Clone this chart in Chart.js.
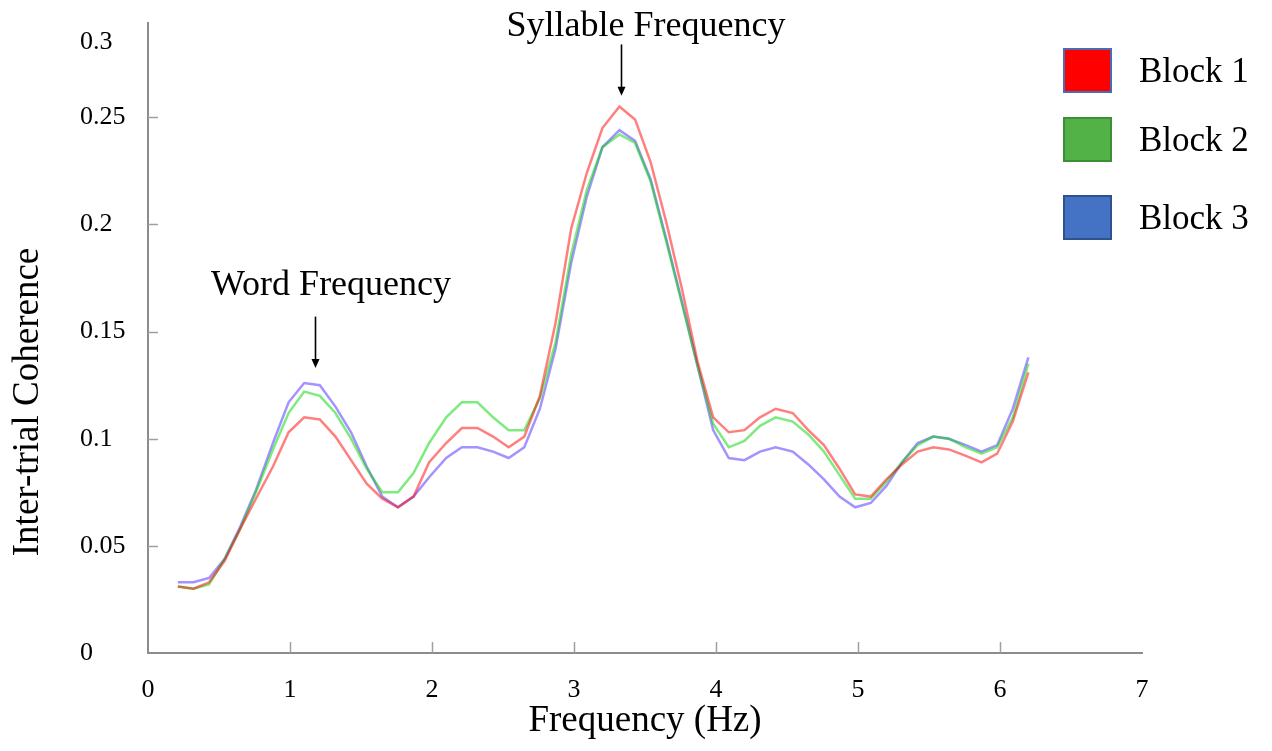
<!DOCTYPE html>
<html>
<head>
<meta charset="utf-8">
<title>Inter-trial Coherence by Block</title>
<script src="https://cdn.jsdelivr.net/npm/chart.js@4.4.1/dist/chart.umd.min.js"></script>
<style>
  html, body { margin: 0; padding: 0; background: #fff; }
  #wrap { width: 1272px; height: 751px; }
</style>
</head>
<body>
<div id="wrap"><canvas id="itc" width="1272" height="751"></canvas></div>
<script>
// ───── Data ───────────────────────────────────────────────────────────────
const frequencies = [
  0.21, 0.32, 0.43, 0.54, 0.65, 0.76, 0.88, 0.99, 1.10, 1.21,
  1.32, 1.43, 1.54, 1.65, 1.76, 1.87, 1.98, 2.10, 2.21, 2.32,
  2.43, 2.54, 2.65, 2.76, 2.87, 2.98, 3.09, 3.20, 3.32, 3.43,
  3.54, 3.65, 3.76, 3.87, 3.98, 4.09, 4.20, 4.31, 4.42, 4.54,
  4.65, 4.76, 4.87, 4.98, 5.09, 5.20, 5.31, 5.42, 5.53, 5.64,
  5.76, 5.87, 5.98, 6.09, 6.20,
];

const block1 = [
  0.031, 0.030, 0.033, 0.043, 0.058, 0.072, 0.087, 0.103, 0.110, 0.109,
  0.101, 0.090, 0.079, 0.072, 0.068, 0.073, 0.089, 0.098, 0.105, 0.105,
  0.101, 0.096, 0.101, 0.120, 0.154, 0.198, 0.224, 0.245, 0.255, 0.249,
  0.229, 0.201, 0.170, 0.136, 0.110, 0.103, 0.104, 0.110, 0.114, 0.112,
  0.104, 0.097, 0.086, 0.074, 0.073, 0.081, 0.088, 0.094, 0.096, 0.095,
  0.092, 0.089, 0.093, 0.108, 0.131,
];

const block2 = [
  0.031, 0.030, 0.032, 0.044, 0.058, 0.075, 0.095, 0.112, 0.122, 0.120,
  0.112, 0.100, 0.086, 0.075, 0.075, 0.084, 0.098, 0.110, 0.117, 0.117,
  0.110, 0.104, 0.104, 0.119, 0.145, 0.186, 0.216, 0.236, 0.242, 0.238,
  0.220, 0.192, 0.163, 0.134, 0.107, 0.096, 0.099, 0.106, 0.110, 0.108,
  0.102, 0.094, 0.083, 0.072, 0.072, 0.080, 0.089, 0.097, 0.101, 0.100,
  0.096, 0.093, 0.096, 0.110, 0.135,
];

const block3 = [
  0.033, 0.033, 0.035, 0.044, 0.059, 0.076, 0.098, 0.117, 0.126, 0.125,
  0.115, 0.103, 0.087, 0.073, 0.068, 0.073, 0.082, 0.091, 0.096, 0.096,
  0.094, 0.091, 0.096, 0.114, 0.142, 0.182, 0.213, 0.236, 0.244, 0.239,
  0.221, 0.193, 0.164, 0.134, 0.104, 0.091, 0.090, 0.094, 0.096, 0.094,
  0.088, 0.081, 0.073, 0.068, 0.070, 0.078, 0.089, 0.098, 0.101, 0.100,
  0.097, 0.094, 0.097, 0.114, 0.138,
];

const seriesNames = ['Block 1', 'Block 2', 'Block 3'];
const xTickValues = [0, 1, 2, 3, 4, 5, 6, 7];
const yTickValues = [0, 0.05, 0.1, 0.15, 0.2, 0.25, 0.285];
const yTickLabels = ['0', '0.05', '0.1', '0.15', '0.2', '0.25', '0.3'];

// Arrow call-outs (in data units).
const callouts = [
  { text: 'Word Frequency', x: 1.176, tip: 0.133, tail: 0.157, textX: 1.289, textY: 0.1715 },
  { text: 'Syllable Frequency', x: 3.33, tip: 0.260, tail: 0.284, textX: 3.507, textY: 0.2925 },
];

// ───── Styling ─────────────────────────────────────────────────────────────
const SERIF = '"Liberation Serif", "Times New Roman", "DejaVu Serif", serif';
const lineColors = ['rgba(255, 0, 0, 0.5)', 'rgba(0, 215, 0, 0.5)', 'rgba(70, 40, 255, 0.5)'];
const swatchFill = ['#ff0000', '#52b147', '#4472c4'];
const swatchEdge = ['#4a6bb5', '#3d8f36', '#2f528f'];

const allSeries = [block1, block2, block3];

const datasets = allSeries.map((values, i) => ({
  label: seriesNames[i],
  data: frequencies.map((f, k) => ({ x: f, y: values[k] })),
  borderColor: lineColors[i],
  backgroundColor: lineColors[i],
  borderWidth: 2.5,
  pointRadius: 0,
  tension: 0,
  fill: false,
}));

// Small tick marks that point into the plot, like the original.
const innerTicks = {
  id: 'innerTicks',
  afterDatasetsDraw(chart) {
    const { ctx, chartArea, scales: { x, y } } = chart;
    ctx.save();
    ctx.strokeStyle = '#a0a0a0';
    ctx.lineWidth = 1.5;
    ctx.beginPath();
    yTickValues.slice(1, 6).forEach((v) => {
      const py = Math.round(y.getPixelForValue(v)) + 0.5;
      ctx.moveTo(chartArea.left, py);
      ctx.lineTo(chartArea.left + 10, py);
    });
    xTickValues.slice(1, 7).forEach((v) => {
      const px = Math.round(x.getPixelForValue(v)) + 0.5;
      ctx.moveTo(px, chartArea.bottom);
      ctx.lineTo(px, chartArea.bottom - 11);
    });
    ctx.stroke();
    ctx.restore();
  },
};

// Rotated y title, arrows with labels, and the square-swatch legend.
const decorations = {
  id: 'decorations',
  afterDraw(chart) {
    const { ctx, scales: { x, y } } = chart;
    ctx.save();
    ctx.fillStyle = '#000';
    ctx.strokeStyle = '#000';

    // y-axis title
    ctx.save();
    ctx.translate(28, 402);
    ctx.rotate(-Math.PI / 2);
    ctx.font = `37px ${SERIF}`;
    ctx.textAlign = 'center';
    ctx.textBaseline = 'middle';
    ctx.fillText('Inter-trial Coherence', 0, 0);
    ctx.restore();

    // call-outs
    callouts.forEach((c) => {
      const ax = Math.round(x.getPixelForValue(c.x)) + 0.5;
      const tipY = y.getPixelForValue(c.tip);
      const tailY = y.getPixelForValue(c.tail);
      ctx.lineWidth = 1.6;
      ctx.beginPath();
      ctx.moveTo(ax, tailY);
      ctx.lineTo(ax, tipY - 6);
      ctx.stroke();
      ctx.beginPath();
      ctx.moveTo(ax - 4, tipY - 9);
      ctx.lineTo(ax + 4, tipY - 9);
      ctx.lineTo(ax, tipY);
      ctx.closePath();
      ctx.fill();

      ctx.font = `36px ${SERIF}`;
      ctx.textAlign = 'center';
      ctx.textBaseline = 'middle';
      ctx.fillText(c.text, x.getPixelForValue(c.textX), y.getPixelForValue(c.textY));
    });

    // legend
    const rowTops = [48, 117, 195];
    chart.data.datasets.forEach((ds, i) => {
      const top = rowTops[i];
      ctx.fillStyle = swatchFill[i];
      ctx.fillRect(1063, top, 49, 45);
      ctx.lineWidth = 2;
      ctx.strokeStyle = swatchEdge[i];
      ctx.strokeRect(1064, top + 1, 47, 43);
      ctx.fillStyle = '#000';
      ctx.font = `35px ${SERIF}`;
      ctx.textAlign = 'left';
      ctx.textBaseline = 'middle';
      ctx.fillText(ds.label, 1139, top + 25);
    });
    ctx.restore();
  },
};

new Chart(document.getElementById('itc'), {
  type: 'line',
  data: { datasets },
  options: {
    responsive: false,
    animation: false,
    devicePixelRatio: 1,
    layout: { padding: { left: 80, right: 130, top: 23, bottom: 0 } },
    plugins: {
      legend: { display: false },
      tooltip: { enabled: false },
    },
    scales: {
      x: {
        type: 'linear',
        min: 0,
        max: 7,
        afterBuildTicks: (scale) => {
          scale.ticks = xTickValues.map((v) => ({ value: v }));
        },
        afterFit: (scale) => { scale.height = 98; },
        grid: { display: false, drawTicks: false },
        border: { display: true, color: '#8c8c8c', width: 2 },
        ticks: {
          autoSkip: false,
          maxRotation: 0,
          padding: 22,
          color: '#000',
          font: { family: SERIF, size: 26 },
        },
        title: {
          display: true,
          text: 'Frequency (Hz)',
          color: '#000',
          font: { family: SERIF, size: 37 },
          padding: { top: 0, bottom: 8 },
        },
      },
      y: {
        type: 'linear',
        min: 0,
        max: 0.294,
        afterBuildTicks: (scale) => {
          scale.ticks = yTickValues.map((v) => ({ value: v }));
        },
        afterFit: (scale) => { scale.width = 68; },
        grid: { display: false, drawTicks: false },
        border: { display: true, color: '#8c8c8c', width: 2 },
        ticks: {
          crossAlign: 'far',
          padding: 0,
          color: '#000',
          font: { family: SERIF, size: 26 },
          callback: (value, index) => yTickLabels[index],
        },
      },
    },
  },
  plugins: [innerTicks, decorations],
});
</script>
</body>
</html>
